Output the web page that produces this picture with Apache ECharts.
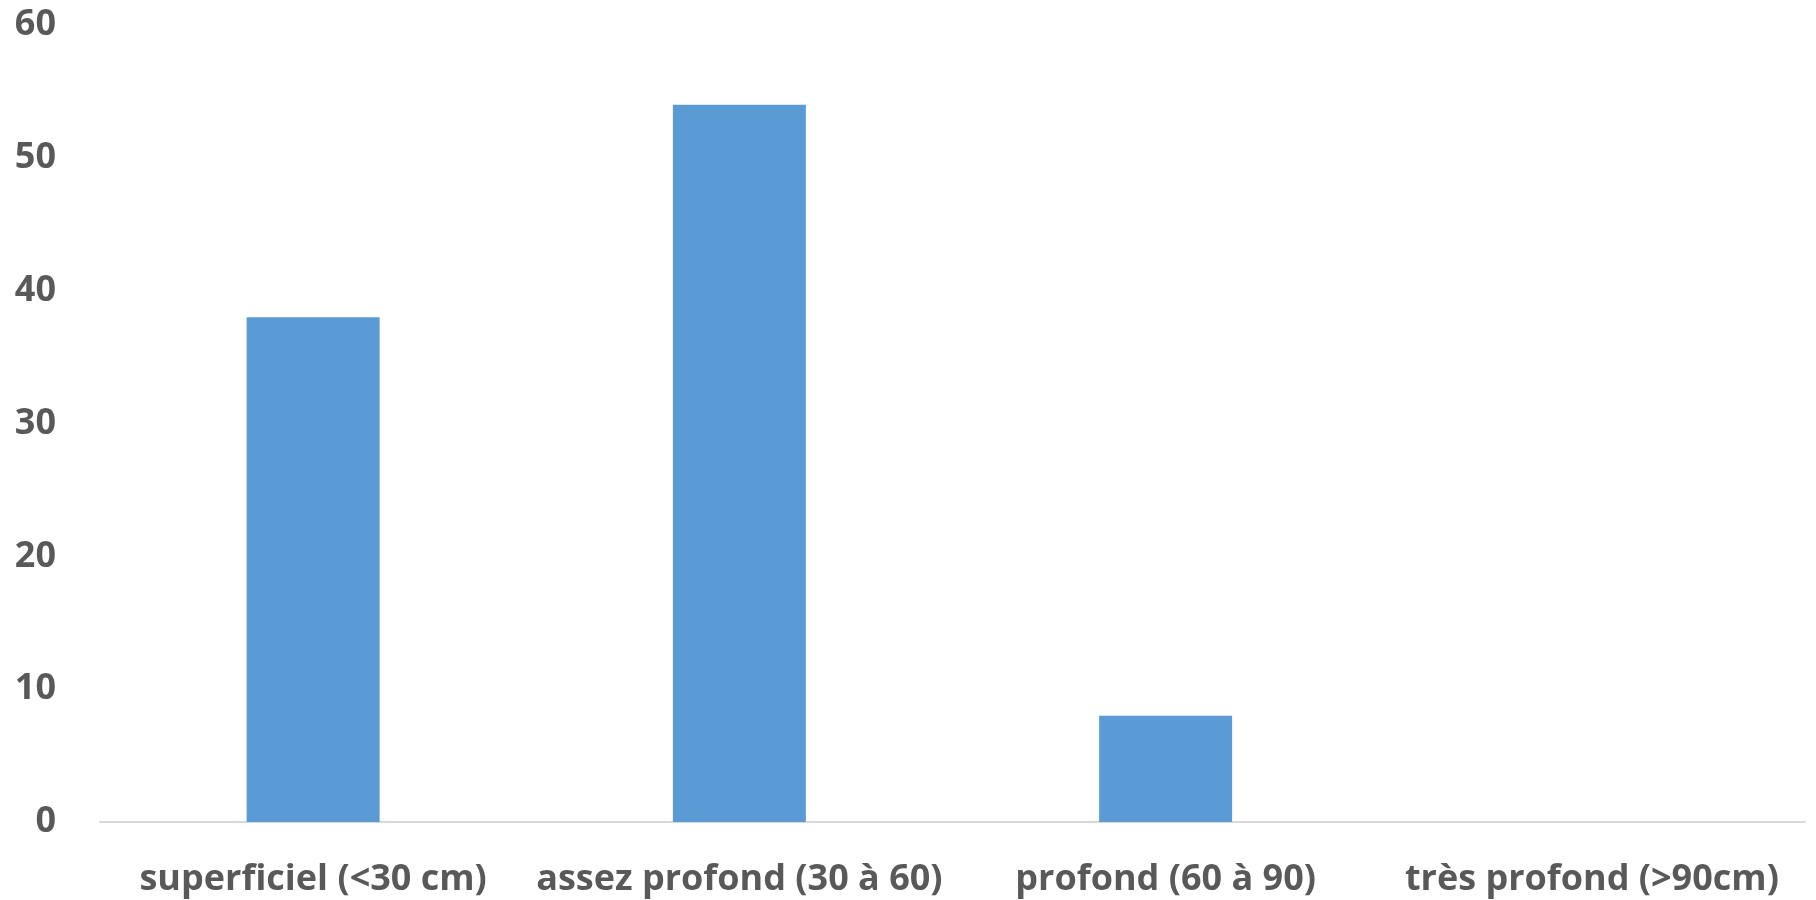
<!DOCTYPE html>
<html>
<head>
<meta charset="utf-8">
<script src="https://cdn.jsdelivr.net/npm/echarts@6/dist/echarts.min.js"></script>
<style>
  html, body { margin: 0; padding: 0; background: #ffffff; }
  #chart { width: 1816px; height: 900px; }
</style>
</head>
<body>
<div id="chart"></div>
<script>
// Soil depth classes and counts
const categories = ['superficiel (<30 cm)', 'assez profond (30 à 60)', 'profond (60 à 90)', 'très profond (>90cm)'];
const counts = [38, 54, 8, 0];
const yTicks = { min: 0, max: 60, interval: 10 };

const labelFont = { fontFamily: 'Open Sans', fontWeight: 'bold', color: '#595959' };

const chart = echarts.init(document.getElementById('chart'), null, { renderer: 'canvas' });
chart.setOption({
  animation: false,
  backgroundColor: '#ffffff',
  grid: { left: 100, right: 11, top: 25, bottom: 78, containLabel: false },
  xAxis: {
    type: 'category',
    data: categories,
    axisLine: { lineStyle: { color: '#D9D9D9', width: 2 } },
    axisTick: { show: false },
    axisLabel: Object.assign({ fontSize: 36, margin: 40, interval: 0 }, labelFont)
  },
  yAxis: {
    type: 'value',
    min: yTicks.min,
    max: yTicks.max,
    interval: yTicks.interval,
    axisLine: { show: false },
    axisTick: { show: false },
    splitLine: { show: false },
    axisLabel: Object.assign({ fontSize: 36, margin: 44 }, labelFont)
  },
  series: [{
    type: 'bar',
    data: counts,
    barWidth: '31.2%',
    itemStyle: { color: '#5B9BD5' }
  }]
});
</script>
</body>
</html>
